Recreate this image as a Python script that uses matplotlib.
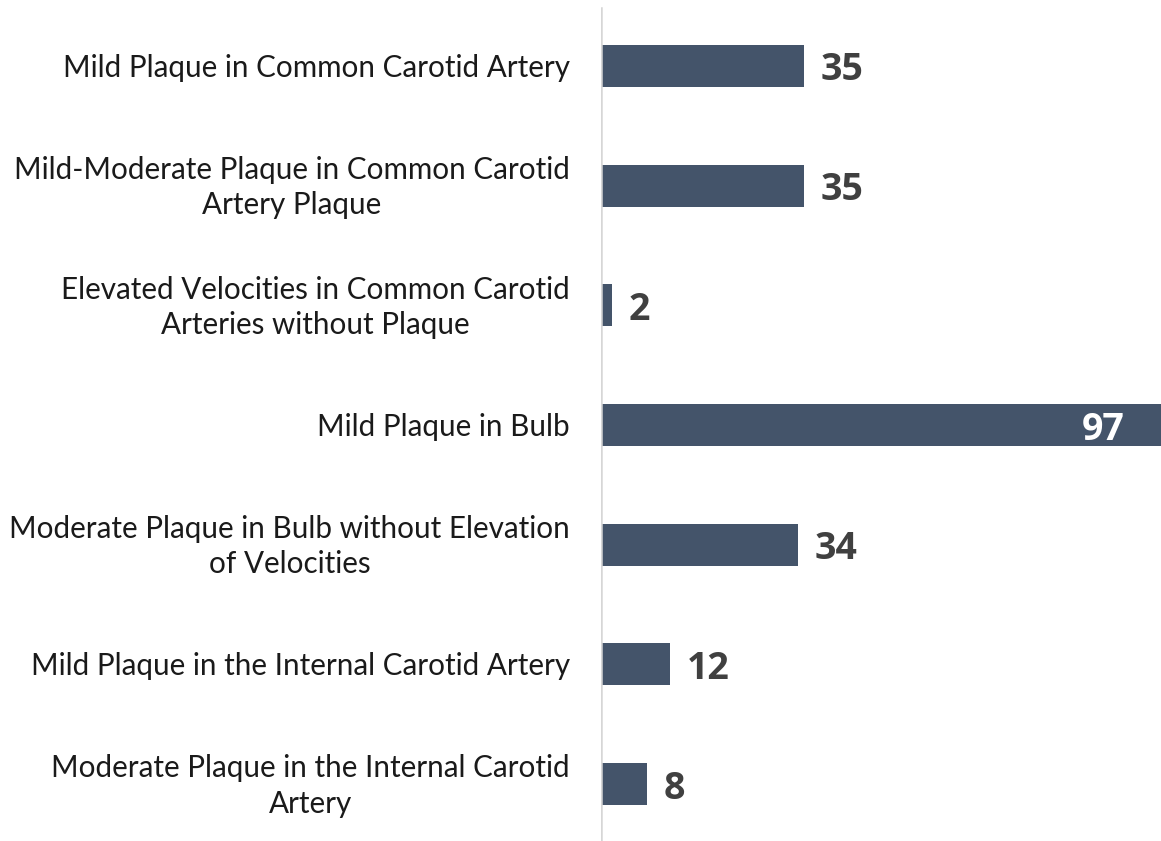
import matplotlib
matplotlib.use("Agg")
import matplotlib.pyplot as plt
from matplotlib.transforms import blended_transform_factory, offset_copy

categories = [
    "Mild Plaque in Common Carotid Artery",
    "Mild-Moderate Plaque in Common Carotid\nArtery Plaque",
    "Elevated Velocities in Common Carotid\nArteries without Plaque",
    "Mild Plaque in Bulb",
    "Moderate Plaque in Bulb without Elevation\nof Velocities",
    "Mild Plaque in the Internal Carotid Artery",
    "Moderate Plaque in the Internal Carotid\nArtery",
]
values = [35, 35, 2, 97, 34, 12, 8]

bar_color = "#44546A"
W, H = 1161, 841

fig = plt.figure(figsize=(W / 100, H / 100), dpi=100)
left = 600.5 / W
ax = fig.add_axes([left, 0, 1 - left, 1])

ypos = list(range(len(categories)))
ax.barh(ypos, values, height=0.351, color=bar_color)

ax.set_xlim(0, 96.6)
ax.set_ylim(6.476, -0.5515)

for s in ax.spines.values():
    s.set_visible(False)
ax.set_xticks([])
ax.set_yticks([])

# category labels: block right-aligned near the axis, lines centred
trans = blended_transform_factory(fig.transFigure, ax.transData)
trans = offset_copy(trans, fig=fig, y=-2, units="dots")
for y, name in zip(ypos, categories):
    fig.text(570 / W, y, name, transform=trans, ha="right", va="center",
             multialignment="center", fontsize=21.3, family="Lato",
             color="#1a1a1a", linespacing=1.32)

ax.axvline(0, ymin=0, ymax=1 - 8 / H, color="#D6D6D6", lw=1.8)

for y, v in zip(ypos, values):
    if v > 90:
        ax.text(v - 6.7, y, str(v), ha="right", va="center_baseline", fontsize=27,
                fontweight="bold", family="Open Sans", color="white")
    else:
        ax.text(v + 2.9, y, str(v), ha="left", va="center_baseline", fontsize=27,
                fontweight="bold", family="Open Sans", color="#404040")

fig.savefig("out.png", dpi=100)
